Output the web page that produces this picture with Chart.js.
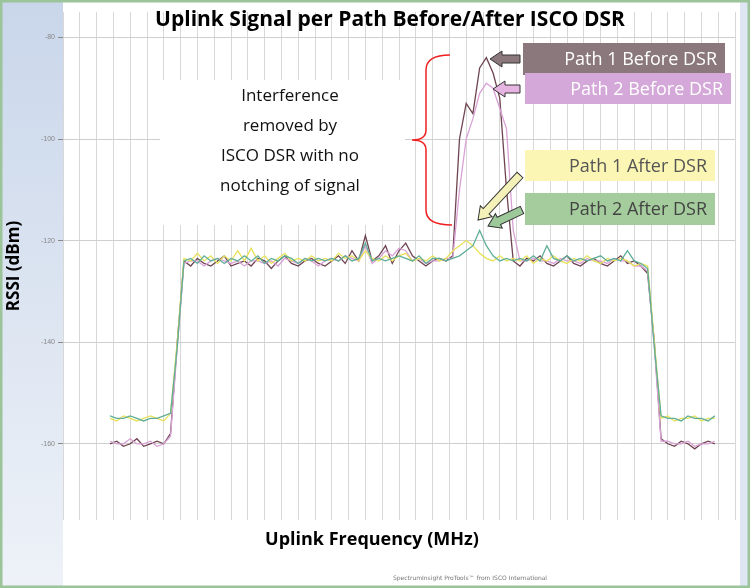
<!DOCTYPE html>
<html><head><meta charset="utf-8">
<script src="https://cdn.jsdelivr.net/npm/chart.js@4/dist/chart.umd.min.js"></script>
<style>html,body{margin:0;padding:0;background:#fff}#w{width:750px;height:588px}</style>
</head><body><div id="w"><canvas id="c"></canvas></div>
<script>
const freqStart = 7;
const path1Before = [-160,-159.5,-160.5,-160,-159,-160.5,-160,-159.5,-160,-158,-140,
-124,-125,-123.5,-124.5,-125,-124,-123,-125,-124.5,-124,
-125,-123.5,-124,-125.5,-124,-123,-124.5,-125,-124,-123.5,
-124.5,-125,-124,-123,-124.5,-122,-124,-119,-124,-123,
-121,-124.5,-122,-120.5,-123,-124,-125,-124,-123.5,-124,
-123,-100,-93,-95,-86,-84,-87,-92,-110,-124,
-125,-123.5,-124,-123,-124.5,-125,-124,-123,-124.5,-125,
-124,-123.5,-124.5,-125,-124,-123,-124.5,-124,-125,-126.5,
-140,-159,-160,-160.5,-159.5,-160,-161,-160,-159.5,-160];
const path2Before = [-159.5,-160,-160,-159,-160,-160,-159.5,-160.5,-160,-158.5,-141,
-124.5,-124,-124,-125,-124,-123.5,-124,-124.5,-124,-125,
-124,-124,-124.5,-124,-125,-123.5,-124,-124.5,-123.5,-124,
-125,-124,-123.5,-124,-123,-123.5,-124,-121,-124.5,-123.5,
-122,-123,-121.5,-122,-124,-123.5,-124.5,-124,-124,-123.5,
-123.5,-110,-100,-96,-91,-89,-90,-94,-98,-118,
-124,-124,-123.5,-124,-124,-124.5,-123.5,-124,-124,-124.5,
-123.5,-124,-124,-124.5,-123.5,-124,-124,-125,-125,-126,
-141,-159.5,-159.5,-160,-160,-159.5,-160.5,-160,-160,-159.5];
const path1After = [-155,-155.5,-154.5,-155,-155.5,-155,-154.5,-155,-155.5,-154,-140,
-123.5,-124,-122.5,-124,-123,-124.5,-123,-124,-122,-124,
-121.5,-124,-123,-124.5,-123.5,-122.5,-124,-123.5,-124,-123,
-124,-123.5,-124,-122.5,-123.5,-123,-124,-122,-123.5,-124,
-123,-124,-123,-122.5,-124,-123.5,-124,-123,-124,-123.5,
-122,-121,-120,-121,-122.5,-123.5,-124,-123,-124,-123.5,
-124,-123,-124.5,-123.5,-124,-123,-124,-124.5,-123.5,-124,
-123,-124,-124.5,-123.5,-124,-123.5,-124,-125,-124.5,-125,
-140,-155,-154.5,-155.5,-155,-155,-154.5,-155.5,-155,-155];
const path2After = [-154.5,-155,-155,-154.5,-155,-155.5,-155,-155,-154.5,-154,-141,
-124,-123.5,-124.5,-123,-124,-123.5,-124.5,-123.5,-124,-123,
-124,-123,-124.5,-123.5,-124,-123,-123.5,-124.5,-123.5,-124,
-123.5,-124,-123.5,-124,-123,-124,-123.5,-120.5,-124,-123.5,
-124,-123.5,-123,-123.5,-124,-123,-124.5,-123.5,-123.5,-124,
-123.5,-123,-122,-121,-118,-121,-123,-124,-123.5,-124,
-123.5,-124,-123,-124,-121,-123.5,-124,-123,-124,-123.5,
-124,-123.5,-123,-124,-123.5,-124,-122,-124,-124.5,-125.5,
-141,-154.5,-155,-155,-155.5,-154.5,-155,-155,-155.5,-154.5];
const yTicks = [-80,-100,-120,-140,-160];
const seriesNames = ['Path 1 Before DSR','Path 2 Before DSR','Path 1 After DSR','Path 2 After DSR'];
const seriesColors = ['#6e4450','#d9a2d6','#e8e25a','#5fae98'];
const toXY = arr => arr.map((v,i)=>({x:freqStart+i,y:v}));

const deco = {
  id:'deco',
  beforeDraw(ch){
    const c=ch.ctx, a=ch.chartArea;
    c.save();
    let g=c.createLinearGradient(0,0,0,588);g.addColorStop(0,'#c9d6ea');g.addColorStop(1,'#eef2f8');
    c.fillStyle=g;c.fillRect(0,0,a.left,588);
    c.fillStyle='#dde6f2';c.fillRect(740,0,10,588);
    c.fillStyle='#fff';c.fillRect(a.left,0,740-a.left,588);
    c.strokeStyle='#9cc49a';c.lineWidth=3;c.strokeRect(1,1,748,586);
    c.restore();
  },
  afterDraw(ch){
    const c=ch.ctx;
    c.save();
    c.fillStyle='#000';c.textAlign='center';c.textBaseline='middle';
    c.font='bold 21px "Open Sans", sans-serif';
    c.fillText('Uplink Signal per Path Before/After ISCO DSR',390,20);
    c.font='bold 18px "Open Sans", sans-serif';
    c.fillText('Uplink Frequency (MHz)',372,540);
    c.font='6px "DejaVu Sans", sans-serif';c.fillStyle='#777';
    c.fillText('SpectrumInsight ProTools\u2122 from ISCO International',470,578);
    // annotation text
    c.fillStyle='#fff';c.fillRect(160,80,245,145);
    c.fillStyle='#111';c.font='17px "Open Sans", sans-serif';
    ['Interference','removed by','ISCO DSR with no','notching of signal'].forEach((t,i)=>c.fillText(t,290,96+i*30));
    // bracket
    c.strokeStyle='#f02020';c.lineWidth=1.5;c.beginPath();
    c.moveTo(450,55);c.quadraticCurveTo(426,55,426,70);c.lineTo(426,130);c.quadraticCurveTo(426,140,412,140);
    c.quadraticCurveTo(426,140,426,150);c.lineTo(426,210);c.quadraticCurveTo(426,225,452,225);c.stroke();
    // labels
    const labs=[[523,43,202,32,'#8a787c','#fff'],[525,73,206,31,'#d4a8d8','#fff'],[525,150,190,31,'#fbf6b4','#555'],[525,193,190,32,'#a4cc9c','#444']];
    c.font='18px "Open Sans", sans-serif';c.textAlign='right';
    labs.forEach((l,i)=>{c.fillStyle=l[4];c.fillRect(l[0],l[1],l[2],l[3]);c.fillStyle=l[5];c.fillText(seriesNames[i],l[0]+l[2]-8,l[1]+l[3]/2+1);});
    // arrows
    function arrow(x1,y1,x2,y2,fill){
      const ang=Math.atan2(y2-y1,x2-x1),len=Math.hypot(x2-x1,y2-y1),w=4,hw=8,hl=12;
      c.save();c.translate(x1,y1);c.rotate(ang);
      c.beginPath();c.moveTo(0,-w);c.lineTo(len-hl,-w);c.lineTo(len-hl,-hw);c.lineTo(len,0);c.lineTo(len-hl,hw);c.lineTo(len-hl,w);c.lineTo(0,w);c.closePath();
      c.fillStyle=fill;c.fill();c.strokeStyle='#333';c.lineWidth=1;c.stroke();c.restore();
    }
    arrow(520,59,490,59,'#8a787c');arrow(520,89,493,89,'#e6b4e0');
    arrow(520,175,478,220,'#f4f2b8');arrow(522,210,488,226,'#9cc89a');
    c.restore();
  }
};

new Chart(document.getElementById('c'),{
  type:'line',
  data:{datasets:[path1Before,path2Before,path1After,path2After].map((d,i)=>({
    label:seriesNames[i],data:toXY(d),borderColor:seriesColors[i],borderWidth:1.3,pointRadius:0,tension:0
  })).reverse()},
  options:{
    responsive:true,maintainAspectRatio:false,animation:false,
    layout:{padding:{top:12,right:15,left:0,bottom:0}},
    plugins:{legend:{display:false},tooltip:{enabled:false}},
    scales:{
      x:{type:'linear',min:0,max:100,afterFit(s){s.height=68;},
        ticks:{stepSize:2.5,display:false},border:{display:false},
        grid:{color:'#d8d8d8',lineWidth:1,drawTicks:false}},
      y:{min:-175,max:-75,afterFit(s){s.width=63;},
        afterBuildTicks(s){s.ticks=yTicks.map(v=>({value:v}));},
        ticks:{font:{size:7},color:'#888',padding:3},
        border:{display:false},
        grid:{color:'#cfcfcf',tickColor:'#888',tickLength:5,tickBorderDash:[],borderDash:[3,2]},
        title:{display:true,text:'RSSI (dBm)',font:{size:17,weight:'bold',family:'"Open Sans", sans-serif'},color:'#000',padding:{bottom:8}}}
    }
  },
  plugins:[deco]
});
</script></body></html>
